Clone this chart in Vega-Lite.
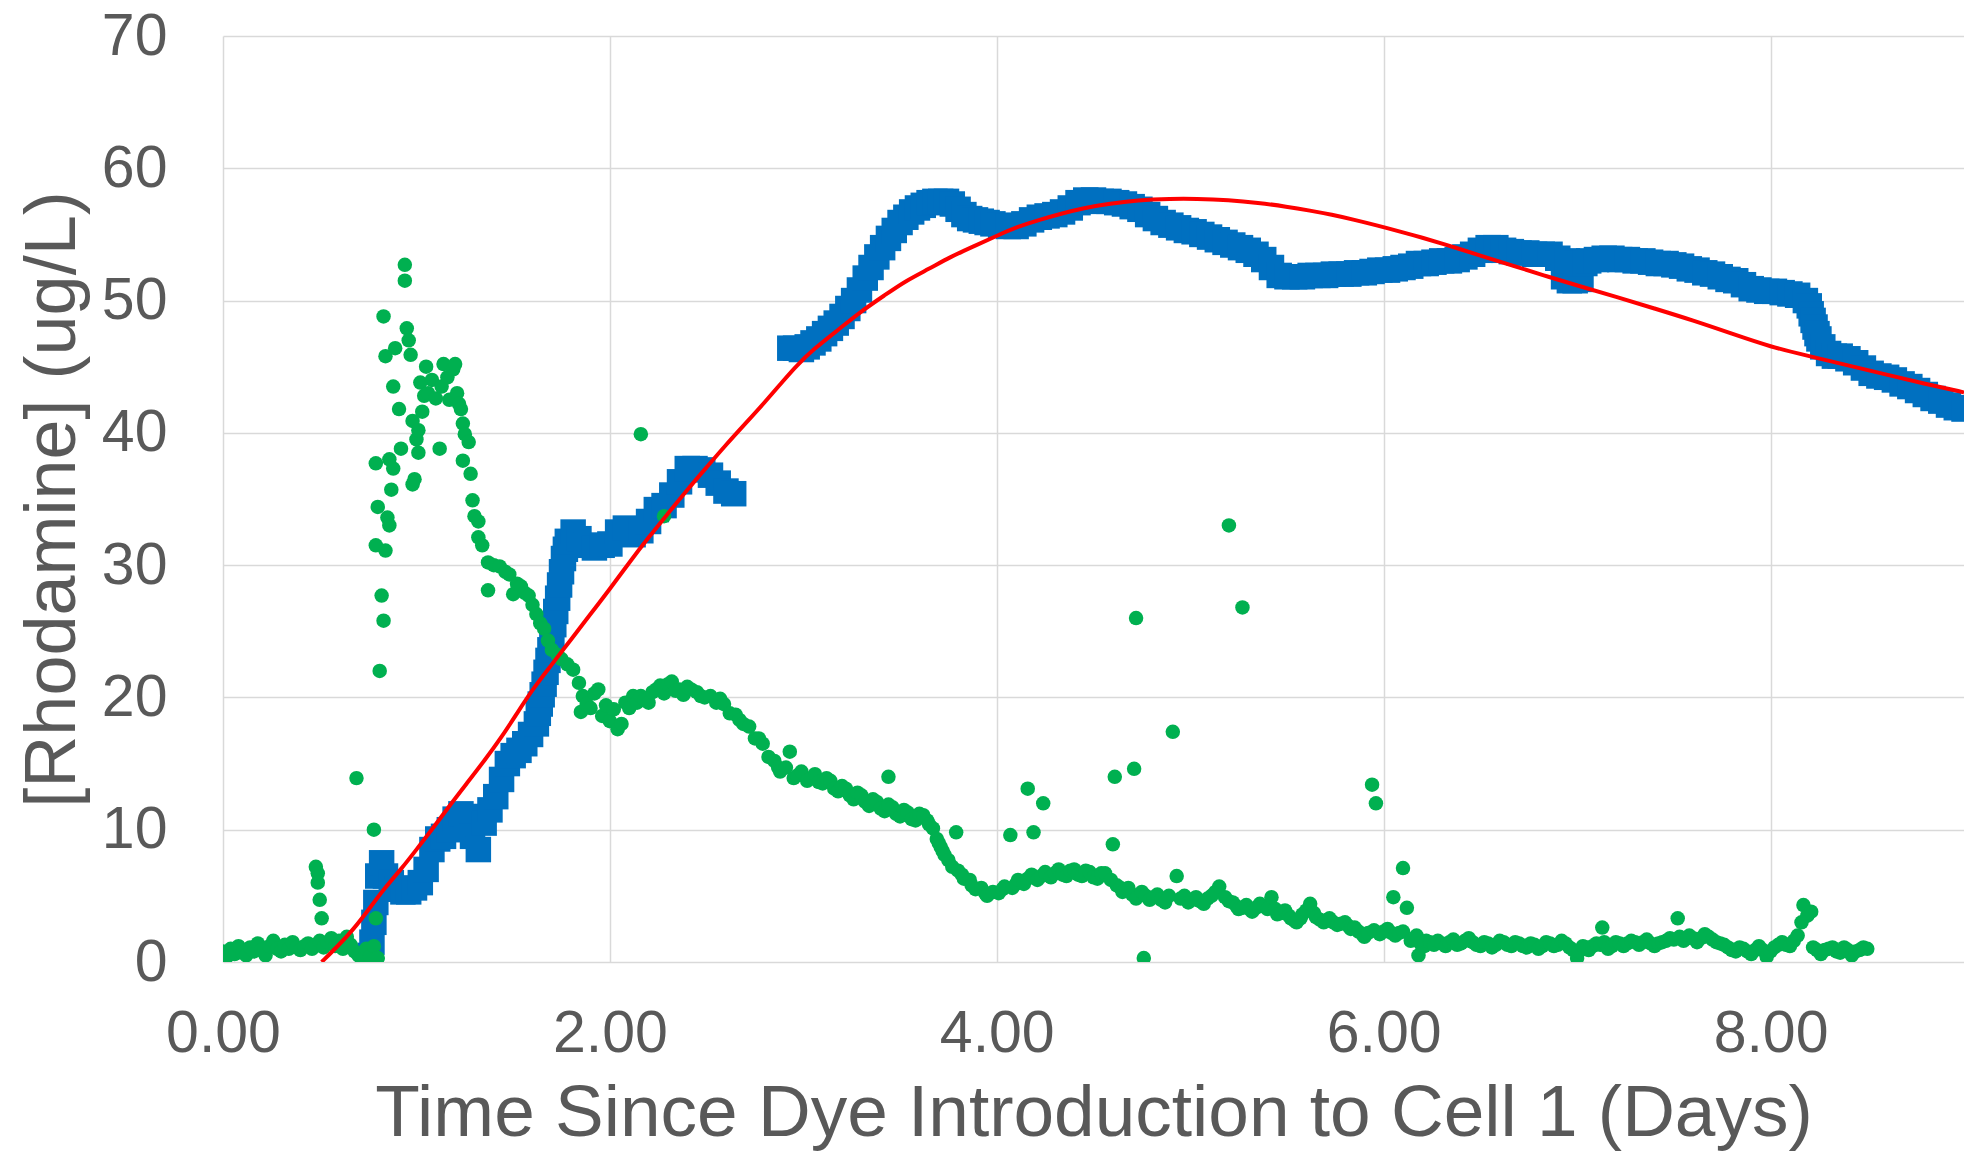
{
"$schema": "https://vega.github.io/schema/vega-lite/v6.json",
"width": 1741,
"height": 926,
"autosize": {"type": "none"},
"padding": {"left": 223, "top": 36, "right": 0, "bottom": 190},
"background": "white",
"config": {"view": {"stroke": null}, "font": "Liberation Sans"},
"datasets": {
"blue": [
{"day":0.76,"v":0.5},{"day":0.77,"v":1.5},{"day":0.78,"v":3.0},{"day":0.79,"v":4.5},{"day":0.80,"v":6.5},{"day":0.82,"v":7.5},{"day":0.84,"v":6.5},{"day":0.87,"v":6.0},{"day":0.90,"v":5.5},{"day":0.93,"v":5.3},{"day":0.96,"v":5.3},{"day":0.99,"v":5.6},{"day":1.02,"v":6.0},{"day":1.05,"v":7.0},{"day":1.08,"v":8.5},{"day":1.11,"v":9.3},{"day":1.14,"v":9.5},{"day":1.17,"v":10.0},{"day":1.20,"v":10.8},{"day":1.23,"v":11.2},{"day":1.26,"v":11.0},{"day":1.29,"v":9.5},{"day":1.32,"v":8.5},{"day":1.35,"v":10.5},{"day":1.38,"v":11.5},{"day":1.41,"v":12.5},{"day":1.44,"v":13.8},{"day":1.47,"v":15.0},{"day":1.50,"v":15.6},{"day":1.53,"v":16.0},{"day":1.56,"v":16.5},{"day":1.59,"v":17.2},{"day":1.62,"v":18.0},{"day":1.63,"v":18.8},{"day":1.64,"v":19.5},{"day":1.65,"v":20.2},{"day":1.66,"v":21.0},{"day":1.67,"v":21.9},{"day":1.68,"v":22.8},{"day":1.69,"v":23.6},{"day":1.70,"v":24.5},{"day":1.71,"v":25.5},{"day":1.72,"v":26.5},{"day":1.73,"v":27.5},{"day":1.74,"v":28.5},{"day":1.75,"v":29.5},{"day":1.76,"v":30.5},{"day":1.77,"v":31.2},{"day":1.78,"v":31.8},{"day":1.81,"v":32.5},{"day":1.84,"v":32.0},{"day":1.88,"v":31.5},{"day":1.92,"v":31.3},{"day":1.96,"v":31.5},{"day":2.00,"v":31.6},{"day":2.04,"v":32.5},{"day":2.08,"v":32.8},{"day":2.12,"v":32.3},{"day":2.16,"v":32.6},{"day":2.20,"v":33.3},{"day":2.24,"v":34.2},{"day":2.28,"v":34.5},{"day":2.32,"v":35.3},{"day":2.36,"v":36.3},{"day":2.40,"v":37.3},{"day":2.44,"v":37.3},{"day":2.48,"v":37.2},{"day":2.52,"v":36.8},{"day":2.56,"v":36.2},{"day":2.60,"v":35.6},{"day":2.64,"v":35.4},
{"day":2.93,"v":46.4},{"day":2.96,"v":46.4},{"day":2.99,"v":46.3},{"day":3.02,"v":46.5},{"day":3.05,"v":46.8},{"day":3.08,"v":47.1},{"day":3.11,"v":47.5},{"day":3.14,"v":47.9},{"day":3.17,"v":48.3},{"day":3.20,"v":48.8},{"day":3.23,"v":49.4},{"day":3.26,"v":50.0},{"day":3.29,"v":50.8},{"day":3.32,"v":51.7},{"day":3.35,"v":52.5},{"day":3.38,"v":53.3},{"day":3.41,"v":54.0},{"day":3.44,"v":54.7},{"day":3.47,"v":55.3},{"day":3.50,"v":55.9},{"day":3.53,"v":56.3},{"day":3.56,"v":56.7},{"day":3.59,"v":57.0},{"day":3.62,"v":57.2},{"day":3.65,"v":57.4},{"day":3.68,"v":57.5},{"day":3.71,"v":57.5},{"day":3.74,"v":57.5},{"day":3.77,"v":57.3},{"day":3.80,"v":56.9},{"day":3.83,"v":56.5},{"day":3.86,"v":56.2},{"day":3.89,"v":56.1},{"day":3.92,"v":56.0},{"day":3.95,"v":55.9},{"day":3.98,"v":55.8},{"day":4.02,"v":55.7},{"day":4.06,"v":55.6},{"day":4.10,"v":55.6},{"day":4.14,"v":55.8},{"day":4.18,"v":56.1},{"day":4.22,"v":56.3},{"day":4.26,"v":56.4},{"day":4.30,"v":56.5},{"day":4.34,"v":56.7},{"day":4.38,"v":57.0},{"day":4.42,"v":57.4},{"day":4.46,"v":57.6},{"day":4.50,"v":57.6},{"day":4.54,"v":57.5},{"day":4.58,"v":57.5},{"day":4.62,"v":57.4},{"day":4.66,"v":57.3},{"day":4.70,"v":57.1},{"day":4.74,"v":56.9},{"day":4.78,"v":56.5},{"day":4.82,"v":56.2},{"day":4.86,"v":55.9},{"day":4.90,"v":55.7},{"day":4.94,"v":55.5},{"day":4.98,"v":55.3},{"day":5.02,"v":55.2},{"day":5.06,"v":55.0},{"day":5.10,"v":54.8},{"day":5.14,"v":54.6},{"day":5.18,"v":54.4},{"day":5.22,"v":54.2},{"day":5.26,"v":54.0},{"day":5.30,"v":53.8},{"day":5.34,"v":53.5},{"day":5.38,"v":53.1},{"day":5.42,"v":52.5},{"day":5.46,"v":51.9},{"day":5.50,"v":51.8},{"day":5.54,"v":51.8},{"day":5.58,"v":51.8},{"day":5.62,"v":51.9},{"day":5.66,"v":51.9},{"day":5.70,"v":51.9},{"day":5.74,"v":52.0},{"day":5.78,"v":52.0},{"day":5.82,"v":52.0},{"day":5.86,"v":52.1},{"day":5.90,"v":52.1},{"day":5.94,"v":52.2},{"day":5.98,"v":52.3},{"day":6.02,"v":52.3},{"day":6.06,"v":52.4},{"day":6.10,"v":52.5},{"day":6.14,"v":52.6},{"day":6.18,"v":52.8},{"day":6.22,"v":52.8},{"day":6.26,"v":52.9},{"day":6.30,"v":53.0},{"day":6.34,"v":53.0},{"day":6.38,"v":53.1},{"day":6.42,"v":53.3},{"day":6.46,"v":53.5},{"day":6.50,"v":53.8},{"day":6.54,"v":54.0},{"day":6.58,"v":54.0},{"day":6.62,"v":53.8},{"day":6.66,"v":53.7},{"day":6.70,"v":53.6},{"day":6.74,"v":53.6},{"day":6.78,"v":53.5},{"day":6.82,"v":53.5},{"day":6.86,"v":53.5},{"day":6.90,"v":53.2},{"day":6.93,"v":51.8},{"day":6.96,"v":51.5},{"day":6.99,"v":51.5},{"day":7.02,"v":51.6},{"day":6.95,"v":53.0},{"day":7.00,"v":52.8},{"day":7.04,"v":52.8},{"day":7.06,"v":53.0},{"day":7.10,"v":53.1},{"day":7.14,"v":53.2},{"day":7.18,"v":53.2},{"day":7.22,"v":53.1},{"day":7.26,"v":53.1},{"day":7.30,"v":53.0},{"day":7.34,"v":53.0},{"day":7.38,"v":52.9},{"day":7.42,"v":52.8},{"day":7.46,"v":52.8},{"day":7.50,"v":52.7},{"day":7.54,"v":52.6},{"day":7.58,"v":52.4},{"day":7.62,"v":52.3},{"day":7.66,"v":52.1},{"day":7.70,"v":52.0},{"day":7.74,"v":51.8},{"day":7.78,"v":51.6},{"day":7.82,"v":51.5},{"day":7.86,"v":51.2},{"day":7.90,"v":50.9},{"day":7.94,"v":50.8},{"day":7.98,"v":50.7},{"day":8.02,"v":50.7},{"day":8.06,"v":50.6},{"day":8.10,"v":50.5},{"day":8.14,"v":50.4},{"day":8.18,"v":50.0},{"day":8.20,"v":49.6},{"day":8.21,"v":49.0},{"day":8.22,"v":48.5},{"day":8.23,"v":48.0},{"day":8.24,"v":47.5},{"day":8.25,"v":47.1},{"day":8.27,"v":46.5},{"day":8.30,"v":46.0},{"day":8.33,"v":45.8},{"day":8.36,"v":45.8},{"day":8.40,"v":45.6},{"day":8.44,"v":45.3},{"day":8.48,"v":44.9},{"day":8.52,"v":44.5},{"day":8.56,"v":44.3},{"day":8.60,"v":44.2},{"day":8.64,"v":44.0},{"day":8.68,"v":43.7},{"day":8.72,"v":43.5},{"day":8.76,"v":43.2},{"day":8.80,"v":42.9},{"day":8.84,"v":42.6},{"day":8.88,"v":42.4},{"day":8.92,"v":42.1},{"day":8.96,"v":41.9},{"day":9.00,"v":41.8}
],
"green": [
{"day":0.00,"v":0.8},{"day":0.02,"v":0.4},{"day":0.04,"v":1.0},{"day":0.06,"v":0.6},{"day":0.08,"v":1.2},{"day":0.10,"v":0.7},{"day":0.12,"v":0.5},{"day":0.14,"v":1.1},{"day":0.16,"v":0.8},{"day":0.18,"v":1.4},{"day":0.20,"v":0.9},{"day":0.22,"v":0.5},{"day":0.24,"v":1.2},{"day":0.26,"v":1.6},{"day":0.28,"v":1.0},{"day":0.30,"v":0.8},{"day":0.32,"v":1.3},{"day":0.34,"v":1.0},{"day":0.36,"v":1.5},{"day":0.38,"v":1.1},{"day":0.40,"v":0.9},{"day":0.42,"v":1.2},{"day":0.44,"v":1.4},{"day":0.46,"v":1.0},{"day":0.48,"v":1.3},{"day":0.50,"v":1.6},{"day":0.52,"v":1.1},{"day":0.54,"v":1.5},{"day":0.56,"v":1.8},{"day":0.58,"v":1.2},{"day":0.60,"v":1.6},{"day":0.62,"v":1.0},{"day":0.64,"v":1.9},{"day":0.66,"v":1.3},{"day":0.68,"v":0.8},{"day":0.70,"v":0.5},{"day":0.72,"v":0.2},{"day":0.74,"v":1.0},{"day":0.76,"v":0.4},{"day":0.78,"v":1.2},{"day":0.80,"v":0.3},
{"day":0.48,"v":7.2},{"day":0.49,"v":6.7},{"day":0.49,"v":6.0},{"day":0.50,"v":4.7},{"day":0.51,"v":3.3},{"day":0.69,"v":13.9},{"day":0.78,"v":10.0},{"day":0.79,"v":3.3},{"day":0.81,"v":22.0},
{"day":0.79,"v":37.7},{"day":0.80,"v":34.4},{"day":0.79,"v":31.5},{"day":0.82,"v":27.7},{"day":0.83,"v":25.8},{"day":0.83,"v":48.8},{"day":0.84,"v":45.8},{"day":0.84,"v":31.1},{"day":0.85,"v":33.6},{"day":0.86,"v":33.0},{"day":0.86,"v":38.0},{"day":0.87,"v":35.7},{"day":0.88,"v":37.3},{"day":0.88,"v":43.5},{"day":0.89,"v":46.4},{"day":0.91,"v":41.8},{"day":0.92,"v":38.8},{"day":0.94,"v":52.7},{"day":0.94,"v":51.5},{"day":0.95,"v":47.9},{"day":0.96,"v":47.0},{"day":0.97,"v":45.9},{"day":0.98,"v":40.9},{"day":0.98,"v":36.1},{"day":0.99,"v":36.5},{"day":1.00,"v":39.5},{"day":1.01,"v":40.2},{"day":1.01,"v":38.5},{"day":1.03,"v":41.6},{"day":1.05,"v":45.0},{"day":1.02,"v":43.8},{"day":1.04,"v":42.8},{"day":1.06,"v":43.0},{"day":1.08,"v":44.0},{"day":1.10,"v":42.6},{"day":1.12,"v":38.8},{"day":1.13,"v":43.5},{"day":1.14,"v":45.2},{"day":1.16,"v":44.2},{"day":1.17,"v":42.5},{"day":1.19,"v":44.8},{"day":1.20,"v":45.2},{"day":1.21,"v":43.0},{"day":1.22,"v":42.2},{"day":1.23,"v":41.8},{"day":1.24,"v":40.7},{"day":1.25,"v":39.9},{"day":1.24,"v":37.9},{"day":1.27,"v":39.3},{"day":1.28,"v":36.9},{"day":1.29,"v":34.9},{"day":1.30,"v":33.7},{"day":1.32,"v":33.3},{"day":1.32,"v":32.1},{"day":1.34,"v":31.5},{"day":1.37,"v":30.2},{"day":1.37,"v":28.1},{"day":1.40,"v":30.0},{"day":1.43,"v":29.9},{"day":1.46,"v":29.5},{"day":1.48,"v":29.3},{"day":1.50,"v":27.8},{"day":1.52,"v":28.6},{"day":1.54,"v":28.4},{"day":1.56,"v":27.9},{"day":1.58,"v":27.7},{"day":1.60,"v":27.0},{"day":1.62,"v":26.3},{"day":1.64,"v":25.6},{"day":1.66,"v":25.2},{"day":1.68,"v":24.3},{"day":1.70,"v":23.6},{"day":1.73,"v":23.2},{"day":1.75,"v":22.9},{"day":1.78,"v":22.5},{"day":1.81,"v":22.1},{"day":1.84,"v":21.1},{"day":1.86,"v":20.1},{"day":1.85,"v":18.9},{"day":1.88,"v":19.5},{"day":1.90,"v":19.2},{"day":1.92,"v":20.3},{"day":1.94,"v":20.6},{"day":1.96,"v":18.6},{"day":1.98,"v":19.4},{"day":2.00,"v":18.2},{"day":2.02,"v":19.1},{"day":2.04,"v":17.6},{"day":2.06,"v":18.0},{"day":2.08,"v":19.6},{"day":2.10,"v":19.2},{"day":2.12,"v":20.1},{"day":2.14,"v":19.6},{"day":2.16,"v":20.1},{"day":2.18,"v":19.8},{"day":2.20,"v":19.6},{"day":2.22,"v":20.4},{"day":2.24,"v":20.6},{"day":2.26,"v":20.9},{"day":2.28,"v":20.3},{"day":2.30,"v":21.0},{"day":2.32,"v":21.2},{"day":2.34,"v":20.5},{"day":2.36,"v":20.6},{"day":2.38,"v":20.2},{"day":2.40,"v":20.8},{"day":2.42,"v":20.6},{"day":2.16,"v":39.9},{"day":2.28,"v":33.7},
{"day":2.45,"v":20.4},{"day":2.47,"v":20.1},{"day":2.49,"v":20.0},{"day":2.52,"v":20.1},{"day":2.55,"v":19.6},{"day":2.57,"v":19.9},{"day":2.59,"v":19.5},{"day":2.62,"v":18.8},{"day":2.65,"v":18.7},{"day":2.67,"v":18.3},{"day":2.69,"v":18.0},{"day":2.72,"v":17.8},{"day":2.75,"v":16.9},{"day":2.77,"v":16.9},{"day":2.79,"v":16.5},{"day":2.82,"v":15.5},{"day":2.85,"v":15.2},{"day":2.87,"v":14.7},{"day":2.88,"v":14.4},{"day":2.91,"v":14.7},{"day":2.93,"v":15.9},{"day":2.95,"v":13.9},{"day":2.97,"v":14.1},{"day":2.99,"v":14.4},{"day":3.02,"v":13.7},{"day":3.04,"v":13.9},{"day":3.06,"v":14.2},{"day":3.08,"v":13.6},{"day":3.10,"v":13.5},{"day":3.12,"v":13.9},{"day":3.14,"v":13.7},{"day":3.16,"v":13.1},{"day":3.18,"v":12.9},{"day":3.20,"v":13.3},{"day":3.22,"v":13.1},{"day":3.24,"v":12.6},{"day":3.26,"v":12.3},{"day":3.28,"v":12.8},{"day":3.30,"v":12.6},{"day":3.32,"v":12.1},{"day":3.34,"v":11.8},{"day":3.36,"v":12.3},{"day":3.38,"v":12.1},{"day":3.40,"v":11.6},{"day":3.42,"v":11.4},{"day":3.44,"v":14.0},{"day":3.44,"v":11.9},{"day":3.46,"v":11.7},{"day":3.48,"v":11.2},{"day":3.50,"v":11.0},{"day":3.52,"v":11.5},{"day":3.54,"v":11.3},{"day":3.56,"v":10.8},{"day":3.58,"v":10.7},{"day":3.60,"v":11.2},{"day":3.62,"v":11.1},{"day":3.64,"v":10.7},{"day":3.65,"v":10.4},{"day":3.67,"v":10.1},{"day":3.69,"v":9.3},{"day":3.70,"v":9.0},{"day":3.71,"v":8.7},{"day":3.72,"v":8.4},{"day":3.73,"v":8.1},{"day":3.75,"v":7.7},{"day":3.77,"v":7.2},{"day":3.79,"v":9.8},{"day":3.80,"v":6.9},{"day":3.82,"v":6.6},{"day":3.83,"v":6.3},{"day":3.86,"v":6.2},{"day":3.87,"v":5.8},{"day":3.89,"v":5.5},{"day":3.92,"v":5.6},{"day":3.94,"v":5.2},{"day":3.95,"v":5.0},{"day":3.98,"v":5.3},{"day":4.01,"v":5.2},{"day":4.03,"v":5.5},{"day":4.04,"v":5.7},{"day":4.07,"v":9.6},{"day":4.08,"v":5.6},{"day":4.10,"v":5.9},{"day":4.11,"v":6.2},{"day":4.14,"v":5.9},{"day":4.16,"v":13.1},{"day":4.16,"v":6.3},{"day":4.18,"v":6.6},{"day":4.19,"v":9.8},{"day":4.21,"v":6.2},{"day":4.23,"v":6.5},{"day":4.24,"v":12.0},{"day":4.25,"v":6.8},{"day":4.28,"v":6.4},{"day":4.30,"v":6.7},{"day":4.32,"v":7.0},{"day":4.34,"v":6.6},{"day":4.36,"v":6.5},{"day":4.38,"v":6.9},{"day":4.40,"v":7.0},{"day":4.42,"v":6.6},{"day":4.44,"v":6.5},{"day":4.46,"v":6.9},{"day":4.48,"v":6.8},{"day":4.50,"v":6.4},{"day":4.52,"v":6.3},{"day":4.54,"v":6.7},{"day":4.56,"v":6.7},{"day":4.59,"v":6.2},{"day":4.60,"v":8.9},{"day":4.61,"v":14.0},{"day":4.62,"v":5.8},{"day":4.64,"v":5.6},{"day":4.65,"v":5.3},{"day":4.68,"v":5.6},{"day":4.70,"v":5.1},{"day":4.71,"v":14.6},{"day":4.72,"v":26.0},{"day":4.72,"v":4.8},{"day":4.75,"v":5.3},{"day":4.76,"v":0.3},{"day":4.77,"v":5.0},{"day":4.79,"v":4.7},{"day":4.81,"v":4.9},{"day":4.83,"v":5.1},{"day":4.85,"v":4.7},{"day":4.87,"v":4.5},{"day":4.89,"v":5.0},{"day":4.91,"v":17.4},{"day":4.93,"v":6.5},{"day":4.95,"v":4.8},{"day":4.97,"v":5.0},{"day":4.99,"v":4.5},{"day":5.01,"v":4.7},{"day":5.03,"v":4.9},{"day":5.05,"v":4.6},{"day":5.07,"v":4.4},{"day":5.09,"v":4.8},{"day":5.11,"v":5.0},{"day":5.13,"v":5.3},{"day":5.15,"v":5.7},{"day":5.18,"v":4.9},{"day":5.20,"v":33.0},{"day":5.20,"v":4.6},{"day":5.22,"v":4.5},{"day":5.24,"v":4.2},{"day":5.25,"v":4.0},{"day":5.27,"v":26.8},{"day":5.27,"v":4.1},{"day":5.29,"v":4.3},{"day":5.31,"v":4.0},{"day":5.32,"v":3.8},{"day":5.34,"v":4.1},{"day":5.36,"v":4.4},{"day":5.38,"v":4.2},{"day":5.40,"v":4.0},{"day":5.42,"v":4.9},{"day":5.44,"v":4.0},{"day":5.45,"v":3.6},{"day":5.47,"v":3.7},{"day":5.49,"v":3.9},{"day":5.51,"v":3.5},{"day":5.52,"v":3.3},{"day":5.54,"v":3.1},{"day":5.55,"v":3.0},{"day":5.57,"v":3.3},{"day":5.58,"v":3.6},{"day":5.60,"v":3.9},{"day":5.62,"v":4.4},{"day":5.64,"v":3.7},{"day":5.65,"v":3.4},{"day":5.67,"v":3.2},{"day":5.69,"v":3.0},{"day":5.71,"v":3.2},{"day":5.72,"v":3.3},{"day":5.74,"v":3.0},{"day":5.76,"v":2.8},{"day":5.78,"v":2.9},{"day":5.80,"v":3.0},{"day":5.82,"v":2.7},{"day":5.83,"v":2.5},{"day":5.85,"v":2.6},{"day":5.87,"v":2.3},{"day":5.89,"v":2.1},{"day":5.90,"v":1.9},{"day":5.92,"v":2.2},{"day":5.94,"v":13.4},{"day":5.95,"v":2.4},{"day":5.96,"v":12.0},{"day":5.98,"v":2.1},{"day":6.00,"v":2.3},{"day":6.02,"v":2.5},{"day":6.04,"v":2.2},{"day":6.05,"v":4.9},{"day":6.06,"v":2.0},{"day":6.08,"v":2.2},{"day":6.10,"v":7.1},{"day":6.10,"v":2.3},{"day":6.12,"v":4.1},{"day":6.14,"v":1.6},{"day":6.16,"v":1.8},{"day":6.17,"v":2.0},{"day":6.18,"v":0.5},{"day":6.19,"v":1.4},{"day":6.21,"v":1.2},{"day":6.22,"v":1.6},{"day":6.24,"v":1.5},{"day":6.26,"v":1.3},
{"day":6.28,"v":1.6},{"day":6.30,"v":1.4},{"day":6.32,"v":1.2},{"day":6.34,"v":1.5},{"day":6.36,"v":1.7},{"day":6.38,"v":1.3},{"day":6.40,"v":1.4},{"day":6.42,"v":1.6},{"day":6.44,"v":1.8},{"day":6.46,"v":1.5},{"day":6.48,"v":1.3},{"day":6.50,"v":1.2},{"day":6.52,"v":1.5},{"day":6.54,"v":1.4},{"day":6.56,"v":1.1},{"day":6.58,"v":1.3},{"day":6.60,"v":1.6},{"day":6.62,"v":1.5},{"day":6.64,"v":1.3},{"day":6.66,"v":1.2},{"day":6.68,"v":1.5},{"day":6.70,"v":1.4},{"day":6.72,"v":1.2},{"day":6.74,"v":1.1},{"day":6.76,"v":1.4},{"day":6.78,"v":1.3},{"day":6.80,"v":1.0},{"day":6.82,"v":1.2},{"day":6.84,"v":1.5},{"day":6.86,"v":1.4},{"day":6.88,"v":1.2},{"day":6.90,"v":1.3},{"day":6.92,"v":1.6},{"day":6.94,"v":1.4},{"day":6.96,"v":1.1},{"day":6.98,"v":0.9},{"day":7.00,"v":0.3},{"day":7.01,"v":0.8},{"day":7.03,"v":1.2},{"day":7.05,"v":1.1},{"day":7.06,"v":0.9},{"day":7.08,"v":1.2},{"day":7.10,"v":1.4},{"day":7.12,"v":1.3},{"day":7.13,"v":2.6},{"day":7.14,"v":1.5},{"day":7.16,"v":1.0},{"day":7.18,"v":1.2},{"day":7.20,"v":1.5},{"day":7.22,"v":1.4},{"day":7.24,"v":1.2},{"day":7.26,"v":1.4},{"day":7.28,"v":1.6},{"day":7.30,"v":1.5},{"day":7.32,"v":1.3},{"day":7.34,"v":1.5},{"day":7.36,"v":1.7},{"day":7.38,"v":1.4},{"day":7.40,"v":1.2},{"day":7.42,"v":1.4},{"day":7.44,"v":1.5},{"day":7.46,"v":1.6},{"day":7.48,"v":1.8},{"day":7.50,"v":1.7},{"day":7.52,"v":3.3},{"day":7.53,"v":1.9},{"day":7.55,"v":1.6},{"day":7.57,"v":1.8},{"day":7.58,"v":2.0},{"day":7.60,"v":1.8},{"day":7.62,"v":1.5},{"day":7.64,"v":1.8},{"day":7.66,"v":2.1},{"day":7.68,"v":1.9},{"day":7.70,"v":1.7},{"day":7.72,"v":1.5},{"day":7.74,"v":1.4},{"day":7.76,"v":1.3},{"day":7.78,"v":1.1},{"day":7.80,"v":0.9},{"day":7.82,"v":0.8},{"day":7.84,"v":1.1},{"day":7.86,"v":1.0},{"day":7.88,"v":0.8},{"day":7.90,"v":0.6},{"day":7.92,"v":0.9},{"day":7.94,"v":1.2},{"day":7.96,"v":0.9},{"day":7.98,"v":0.4},{"day":8.00,"v":0.8},{"day":8.02,"v":1.1},{"day":8.04,"v":1.3},{"day":8.06,"v":1.5},{"day":8.08,"v":1.3},{"day":8.10,"v":1.2},{"day":8.12,"v":1.6},{"day":8.14,"v":2.0},{"day":8.16,"v":3.0},{"day":8.17,"v":4.3},{"day":8.19,"v":3.5},{"day":8.21,"v":3.8},{"day":8.22,"v":1.1},{"day":8.24,"v":0.9},{"day":8.26,"v":0.6},{"day":8.28,"v":0.9},{"day":8.30,"v":1.0},{"day":8.32,"v":1.1},{"day":8.34,"v":0.8},{"day":8.36,"v":0.7},{"day":8.38,"v":1.1},{"day":8.40,"v":0.9},{"day":8.42,"v":0.5},{"day":8.44,"v":0.8},{"day":8.46,"v":0.9},{"day":8.48,"v":1.1},{"day":8.50,"v":1.0}
],
"red": [
{"day":0.51,"v":0.0},{"day":0.60,"v":1.3},{"day":0.67,"v":2.4},{"day":0.75,"v":3.9},{"day":0.83,"v":5.5},{"day":0.92,"v":7.0},{"day":1.00,"v":8.5},{"day":1.09,"v":10.2},{"day":1.17,"v":11.8},{"day":1.26,"v":13.5},{"day":1.35,"v":15.2},{"day":1.44,"v":17.0},{"day":1.52,"v":18.8},{"day":1.60,"v":20.6},{"day":1.69,"v":22.3},{"day":1.80,"v":24.4},{"day":1.90,"v":26.3},{"day":2.00,"v":28.2},{"day":2.10,"v":30.2},{"day":2.20,"v":32.1},{"day":2.30,"v":33.9},{"day":2.40,"v":35.7},{"day":2.50,"v":37.4},{"day":2.60,"v":39.1},{"day":2.70,"v":40.7},{"day":2.80,"v":42.3},{"day":2.90,"v":44.0},{"day":2.96,"v":45.0},{"day":3.05,"v":46.3},{"day":3.19,"v":47.9},{"day":3.30,"v":49.2},{"day":3.42,"v":50.4},{"day":3.53,"v":51.5},{"day":3.65,"v":52.4},{"day":3.76,"v":53.3},{"day":3.88,"v":54.1},{"day":4.00,"v":54.9},{"day":4.11,"v":55.6},{"day":4.22,"v":56.1},{"day":4.34,"v":56.6},{"day":4.45,"v":57.0},{"day":4.57,"v":57.3},{"day":4.73,"v":57.6},{"day":4.90,"v":57.7},{"day":5.03,"v":57.7},{"day":5.20,"v":57.6},{"day":5.35,"v":57.4},{"day":5.50,"v":57.1},{"day":5.62,"v":56.8},{"day":5.73,"v":56.5},{"day":5.85,"v":56.1},{"day":5.96,"v":55.7},{"day":6.09,"v":55.2},{"day":6.19,"v":54.8},{"day":6.35,"v":54.1},{"day":6.50,"v":53.4},{"day":6.70,"v":52.5},{"day":6.85,"v":51.8},{"day":7.01,"v":51.1},{"day":7.20,"v":50.3},{"day":7.40,"v":49.4},{"day":7.60,"v":48.5},{"day":7.80,"v":47.5},{"day":8.00,"v":46.5},{"day":8.20,"v":45.8},{"day":8.40,"v":45.1},{"day":8.60,"v":44.4},{"day":8.80,"v":43.7},{"day":8.96,"v":43.2},{"day":9.00,"v":43.05}
]
},
"encoding": {
"x": {"field": "day", "type": "quantitative", "scale": {"domain": [0, 9], "nice": false, "zero": false},
 "axis": {"title": "Time Since Dye Introduction to Cell 1 (Days)", "values": [0, 2, 4, 6, 8], "format": ".2f", "grid": true, "gridColor": "#d9d9d9", "gridWidth": 1.5, "domain": false, "ticks": false, "tickSize": 0, "labelPadding": 42, "labelFontSize": 59, "labelColor": "#595959", "labelFlush": false, "labelOverlap": false, "labelFont": "Liberation Sans", "titleFont": "Liberation Sans", "titleFontSize": 73, "titleColor": "#595959", "titleFontWeight": "normal", "titlePadding": 14}},
"y": {"field": "v", "type": "quantitative", "scale": {"domain": [0, 70], "nice": false},
 "axis": {"title": "[Rhodamine] (ug/L)", "values": [0, 10, 20, 30, 40, 50, 60, 70], "format": "d", "grid": true, "gridColor": "#d9d9d9", "gridWidth": 1.5, "domain": false, "ticks": false, "tickSize": 0, "labelPadding": 56, "labelFontSize": 59, "labelColor": "#595959", "labelFlush": false, "labelOverlap": false, "labelFont": "Liberation Sans", "titleFont": "Liberation Sans", "titleFontSize": 72, "titleColor": "#595959", "titleFontWeight": "normal", "titlePadding": 12}}
},
"layer": [
{"data": {"name": "blue"}, "mark": {"type": "point", "shape": "square", "filled": true, "size": 650, "color": "#0070C0", "opacity": 1, "clip": true}},
{"data": {"name": "green"}, "mark": {"type": "point", "shape": "circle", "filled": true, "size": 210, "color": "#00B050", "opacity": 1, "clip": true}},
{"data": {"name": "red"}, "mark": {"type": "line", "color": "#FF0000", "strokeWidth": 4, "interpolate": "basis", "clip": true}}
]
}
